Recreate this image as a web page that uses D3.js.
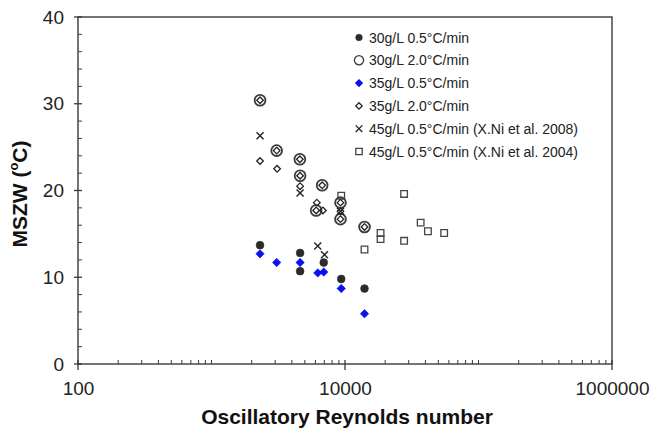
<!DOCTYPE html>
<html><head><meta charset="utf-8">
<script src="https://cdn.jsdelivr.net/npm/d3@7"></script>
<style>
html,body{margin:0;padding:0;background:#fff;}
svg{display:block;font-family:Arial,"Liberation Sans",sans-serif;}
</style></head>
<body><svg id="c" width="650" height="433"></svg>
<script>
// ---- data ----
const seriesNames = ["30g/L 0.5°C/min","30g/L 2.0°C/min","35g/L 0.5°C/min","35g/L 2.0°C/min","45g/L 0.5°C/min (X.Ni et al. 2008)","45g/L 0.5°C/min (X.Ni et al. 2004)"];
const s1x = [2310, 4610, 4610, 6930, 9370, 14000];
const s1y = [13.7, 12.8, 10.7, 11.7, 9.8, 8.7];
const s2x = [2310, 3077, 4590, 4610, 6745, 6080, 9250, 9250, 14000];
const s2y = [30.4, 24.6, 23.6, 21.7, 20.6, 17.7, 18.6, 16.7, 15.8];
const s3x = [2310, 3076, 4610, 6250, 6930, 9370, 14000];
const s3y = [12.7, 11.7, 11.7, 10.5, 10.6, 8.7, 5.8];
const s4x = [2310, 3100, 4610, 6150, 6830, 9250, 2310, 3077, 4590, 4610, 6745, 6080, 9250, 9250, 14000];
const s4y = [23.4, 22.5, 20.5, 18.6, 17.7, 17.6, 30.4, 24.6, 23.6, 21.7, 20.6, 17.7, 18.6, 16.7, 15.8];
const s5x = [2310, 4610, 6250, 7020, 9250];
const s5y = [26.3, 19.7, 13.6, 12.6, 17.6];
const s6x = [9370, 14000, 18470, 18470, 27720, 27720, 36880, 41800, 55300];
const s6y = [19.4, 13.2, 15.1, 14.4, 19.6, 14.2, 16.3, 15.3, 15.1];
const xMajor = [100, 10000, 1000000];
const yMajor = [0, 10, 20, 30, 40];
const xTitle = "Oscillatory Reynolds number";

// ---- layout ----
const L = 78, R = 612, T = 17, B = 364;
const svg = d3.select("#c");
const x = d3.scaleLog().domain([100, 1000000]).range([L, R]);
const y = d3.scaleLinear().domain([0, 40]).range([B, T]);
const axisCol = "#3a3a3a";
const FONT = "Arial, 'Liberation Sans', sans-serif";

// minor ticks
const xMinor = [];
for (let e = 2; e < 6; e++) for (let k = 2; k <= 10; k++) { const v = k * Math.pow(10, e); if (!xMajor.includes(v)) xMinor.push(v); }
const yMinor = d3.range(0, 41, 2).filter(v => v % 10 !== 0);

const g = svg.append("g");
g.selectAll(".xm").data(xMinor).join("line")
  .attr("x1", d => x(d)).attr("x2", d => x(d)).attr("y1", B).attr("y2", B - 4)
  .attr("stroke", axisCol).attr("stroke-width", 1);
g.selectAll(".xM").data(xMajor).join("line")
  .attr("x1", d => x(d)).attr("x2", d => x(d)).attr("y1", B - 4).attr("y2", B + 6)
  .attr("stroke", axisCol).attr("stroke-width", 1.3);
g.selectAll(".ym").data(yMinor).join("line")
  .attr("x1", L).attr("x2", L + 4).attr("y1", d => y(d)).attr("y2", d => y(d))
  .attr("stroke", axisCol).attr("stroke-width", 1);
g.selectAll(".yM").data(yMajor).join("line")
  .attr("x1", L - 4).attr("x2", L + 4).attr("y1", d => y(d)).attr("y2", d => y(d))
  .attr("stroke", axisCol).attr("stroke-width", 1.3);

// frame
g.append("rect").attr("x", L).attr("y", T).attr("width", R - L).attr("height", B - T)
  .attr("fill", "none").attr("stroke", axisCol).attr("stroke-width", 1.4);

// tick labels via d3 axes
const xa = svg.append("g").attr("transform", `translate(0,${B})`)
  .call(d3.axisBottom(x).tickValues(xMajor).tickFormat(d3.format("d")).tickSize(0).tickPadding(18));
xa.select(".domain").remove();
xa.selectAll("text").attr("font-size", 19).attr("fill", "#222").attr("font-family", FONT);
const ya = svg.append("g").attr("transform", `translate(${L},0)`)
  .call(d3.axisLeft(y).tickValues(yMajor).tickFormat(d3.format("d")).tickSize(0).tickPadding(14));
ya.select(".domain").remove();
ya.selectAll("text").attr("font-size", 19).attr("fill", "#222").attr("font-family", FONT);

// titles
svg.append("text").attr("x", (L + R) / 2 + 2).attr("y", 424).attr("text-anchor", "middle")
  .attr("font-size", 21).attr("font-weight", "bold").attr("fill", "#111").text(xTitle);
const yt = svg.append("text").attr("transform", `translate(27,194) rotate(-90)`)
  .attr("text-anchor", "middle").attr("font-size", 21).attr("font-weight", "bold").attr("fill", "#111");
yt.append("tspan").text("MSZW (");
yt.append("tspan").attr("font-size", 13).attr("dy", -9).text("o");
yt.append("tspan").attr("dy", 9).text("C)");

// marker shapes (drawn with d3.path)
function circ(r){ return () => { const p = d3.path(); p.arc(0,0,r,0,2*Math.PI); p.closePath(); return p.toString(); }; }
function diam(h){ return () => { const p = d3.path(); p.moveTo(0,-h); p.lineTo(h,0); p.lineTo(0,h); p.lineTo(-h,0); p.closePath(); return p.toString(); }; }
function cross(h){ return () => { const p = d3.path(); p.moveTo(-h,-h); p.lineTo(h,h); p.moveTo(-h,h); p.lineTo(h,-h); return p.toString(); }; }
function sq(h){ return () => { const p = d3.path(); p.rect(-h,-h,2*h,2*h); return p.toString(); }; }

const styles = [
  {s: circ(3.9), fill: "#2b2b2b", stroke: "#2b2b2b", sw: 0.6},
  {s: circ(5.4), fill: "none", stroke: "#3c3c3c", sw: 1.8},
  {s: diam(4.2), fill: "#0a10f0", stroke: "#0a10f0", sw: 0.6},
  {s: diam(3.3), fill: "none", stroke: "#222", sw: 1.3},
  {s: cross(3.5), fill: "none", stroke: "#222", sw: 1.4},
  {s: sq(3.3), fill: "none", stroke: "#444", sw: 1.3}
];
const data = [[s1x,s1y],[s2x,s2y],[s3x,s3y],[s4x,s4y],[s5x,s5y],[s6x,s6y]];
const order = [5, 1, 3, 4, 0, 2];
order.forEach(i => {
  const st = styles[i];
  const pts = data[i][0].map((v, j) => [v, data[i][1][j]]);
  svg.append("g").selectAll("path").data(pts).join("path")
    .attr("transform", d => `translate(${x(d[0])},${y(d[1])})`)
    .attr("d", st.s()).attr("fill", st.fill).attr("stroke", st.stroke).attr("stroke-width", st.sw);
});

// legend
const legStyles = [
  {s: circ(3.3)}, {s: circ(4.6)}, {s: diam(3.8)}, {s: diam(3.2)}, {s: cross(3.3)}, {s: sq(3.2)}
];
const lg = svg.append("g");
seriesNames.forEach((n, i) => {
  const st = styles[i];
  const yy = 37.5 + i * 22.8;
  lg.append("path").attr("transform", `translate(359,${yy})`).attr("d", legStyles[i].s())
    .attr("fill", st.fill).attr("stroke", st.stroke).attr("stroke-width", Math.min(st.sw, 1.3));
  lg.append("text").attr("x", 369).attr("y", yy + 5).attr("font-size", 14).attr("fill", "#222")
    .attr("font-family", FONT).text(n);
});
</script></body></html>
